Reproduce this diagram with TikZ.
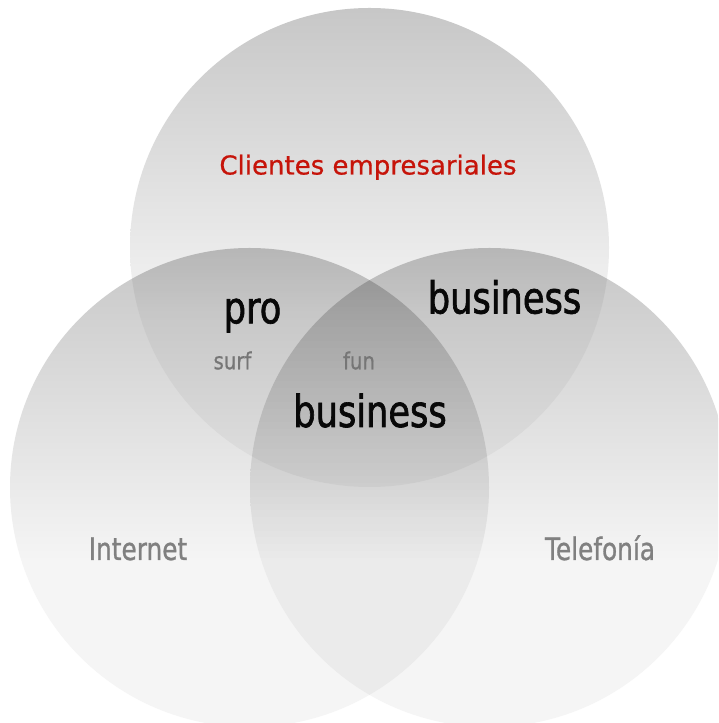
\documentclass[tikz,border=0pt]{standalone}
\usepackage{fontspec}
\setmainfont{DejaVu Sans}
\newfontfamily\narrowfont{DejaVu Sans}[FakeStretch=0.8,FakeBold=1.5]
\newfontfamily\labelfont{DejaVu Sans}[FakeStretch=0.8,FakeBold=0.9]
\newfontfamily\smallnarrow{DejaVu Sans}[FakeStretch=0.84,FakeBold=0.6]
\newfontfamily\redfont{DejaVu Sans}[FakeBold=0.7]
\definecolor{cred}{RGB}{198,20,10}
\definecolor{lblgray}{RGB}{128,128,128}
\definecolor{subgray}{RGB}{118,118,118}
\definecolor{bigblack}{RGB}{8,8,8}
\pgfdeclareverticalshading{circshade}{100bp}{color(0bp)=(black!4); color(42.5bp)=(black!4); color(75bp)=(black!22); color(100bp)=(black!22)}
\tikzset{
  vennset/.style={shading=circshade, blend mode=multiply},
  toplabel/.style={anchor=base, inner sep=0pt, text=cred, font=\redfont\fontsize{26}{30}\selectfont},
  bigword/.style={anchor=base, inner sep=0pt, text=bigblack, font=\narrowfont\fontsize{44}{50}\selectfont},
  smallword/.style={anchor=base, inner sep=0pt, text=subgray, font=\smallnarrow\fontsize{23.5}{28}\selectfont},
  setlabel/.style={anchor=base, inner sep=0pt, text=lblgray, font=\labelfont\fontsize{31}{36}\selectfont}
}
\begin{document}
\begin{tikzpicture}[x=1pt,y=1pt]
\useasboundingbox (0,0) rectangle (718,723);
\clip (0,0) rectangle (718,723);
\fill[white] (0,0) rectangle (718,723);
\shade[vennset] (369.5,475.5) circle[radius=239.5];
\shade[vennset] (249.5,235.5) circle[radius=239.5];
\shade[vennset] (489.5,235.5) circle[radius=239.5];
\node[toplabel] (clientes) at (368,548.5) {Clientes empresariales};
\node[bigword] (pro) at (252.5,399.7) {pro};
\node[bigword] (bustr) at (504.5,409.5) {business};
\node[bigword] (busc) at (370,296) {business};
\node[smallword] (surf) at (232.5,353.7) {surf};
\node[smallword] (fun) at (359,353.7) {fun};
\node[setlabel] (internet) at (138,163) {Internet};
\node[setlabel] (telefonia) at (600,163) {Telefonía};
\end{tikzpicture}
\end{document}
